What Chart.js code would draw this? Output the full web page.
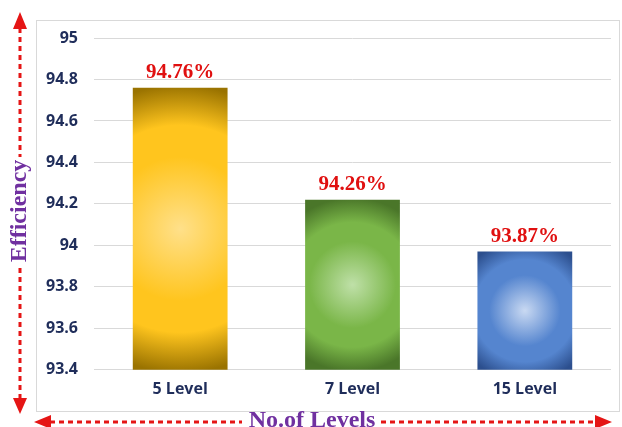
<!DOCTYPE html>
<html>
<head>
<meta charset="utf-8">
<script src="https://cdn.jsdelivr.net/npm/chart.js@4"></script>
<style>
  html, body { margin: 0; padding: 0; background: #fff; }
  #wrap { width: 622px; height: 427px; }
</style>
</head>
<body>
<div id="wrap"><canvas id="chart" width="622" height="427"></canvas></div>
<script>
// データ
const levels = ["5 Level", "7 Level", "15 Level"];
const efficiency = [94.76, 94.22, 93.97];
const barLabels = ["94.76%", "94.26%", "93.87%"];
const yTicks = [93.4, 93.6, 93.8, 94, 94.2, 94.4, 94.6, 94.8, 95];

// 棒の色 (中心, 中間, 外側)
const barColors = [
  ["#ffe08a", "#ffc51e", "#9a7300"],
  ["#bfe0a8", "#7ab648", "#4a7629"],
  ["#c9d9f2", "#5585cf", "#2c4f8e"]
];

// 放射グラデーション (スケールから棒の位置を求める)
function barGradient(context) {
  const chart = context.chart;
  const i = context.dataIndex;
  const c = barColors[i];
  const xs = chart.scales.x, ys = chart.scales.y;
  if (!xs || !ys || !chart.chartArea || i === undefined) return c[1];
  const cx = xs.getPixelForValue(i);
  const top = ys.getPixelForValue(efficiency[i]);
  const bot = ys.getPixelForValue(ys.min);
  if (!isFinite(cx) || !isFinite(top) || !isFinite(bot)) return c[1];
  const w = (chart.chartArea.width / levels.length) * 0.55;
  const cy = (top + bot) / 2;
  const r = Math.max(w * 0.75, (bot - top) / 2 * 1.02);
  const g = chart.ctx.createRadialGradient(cx, cy, 0, cx, cy, r);
  g.addColorStop(0, c[0]);
  g.addColorStop(0.5, c[1]);
  g.addColorStop(0.72, c[1]);
  g.addColorStop(1, c[2]);
  return g;
}

// 枠・矢印・軸タイトル・値ラベル
const decor = {
  id: "decor",
  beforeDraw(chart) {
    const ctx = chart.ctx;
    ctx.save();
    ctx.strokeStyle = "#d9d9d9";
    ctx.lineWidth = 1;
    ctx.strokeRect(36.5, 20.5, 583, 391);
    ctx.restore();
  },
  afterDatasetsDraw(chart) {
    const ctx = chart.ctx;
    const meta = chart.getDatasetMeta(0);
    ctx.save();
    ctx.font = "bold 21px 'Liberation Serif', 'Times New Roman', serif";
    ctx.fillStyle = "#e01010";
    ctx.textAlign = "center";
    ctx.textBaseline = "middle";
    meta.data.forEach((bar, i) => {
      ctx.fillText(barLabels[i], bar.x, bar.y - 15);
    });
    ctx.restore();
  },
  afterDraw(chart) {
    const ctx = chart.ctx;
    const red = "#e51515";
    ctx.save();
    // 縦矢印
    ctx.strokeStyle = red;
    ctx.lineWidth = 3;
    ctx.setLineDash([5, 4]);
    ctx.beginPath();
    ctx.moveTo(20, 28); ctx.lineTo(20, 157);
    ctx.moveTo(20, 268); ctx.lineTo(20, 400);
    ctx.stroke();
    // 横矢印
    ctx.beginPath();
    ctx.moveTo(50, 422); ctx.lineTo(242, 422);
    ctx.moveTo(381, 422); ctx.lineTo(597, 422);
    ctx.stroke();
    ctx.setLineDash([]);
    ctx.fillStyle = red;
    ctx.beginPath();
    ctx.moveTo(20, 12); ctx.lineTo(13, 29); ctx.lineTo(27, 29); ctx.closePath();
    ctx.moveTo(20, 414); ctx.lineTo(13, 398); ctx.lineTo(27, 398); ctx.closePath();
    ctx.moveTo(34, 422); ctx.lineTo(51, 415); ctx.lineTo(51, 429); ctx.closePath();
    ctx.moveTo(612, 422); ctx.lineTo(595, 415); ctx.lineTo(595, 429); ctx.closePath();
    ctx.fill();
    // 軸タイトル
    ctx.fillStyle = "#7030a0";
    ctx.font = "bold 24px 'Liberation Serif', 'Times New Roman', serif";
    ctx.textAlign = "center";
    ctx.textBaseline = "middle";
    ctx.fillText("No.of Levels", 312, 421);
    ctx.translate(20, 211);
    ctx.rotate(-Math.PI / 2);
    ctx.fillText("Efficiency", 0, 0);
    ctx.restore();
  }
};

new Chart(document.getElementById("chart"), {
  type: "bar",
  data: {
    labels: levels,
    datasets: [{
      data: efficiency,
      backgroundColor: barGradient,
      borderWidth: 0,
      categoryPercentage: 1,
      barPercentage: 0.55
    }]
  },
  options: {
    responsive: false,
    animation: false,
    layout: { padding: { top: 38, left: 30, right: 11, bottom: 26 } },
    plugins: { legend: { display: false }, tooltip: { enabled: false } },
    scales: {
      x: {
        grid: { display: false },
        border: { display: false },
        ticks: {
          color: "#1f2d5a",
          padding: 2,
          font: { family: "'Open Sans', 'Liberation Sans', sans-serif", size: 16, weight: "bold" }
        }
      },
      y: {
        min: 93.4,
        max: 95,
        afterBuildTicks(axis) { axis.ticks = yTicks.map(v => ({ value: v })); },
        grid: { color: "#d9d9d9", drawTicks: false },
        border: { display: false },
        ticks: {
          color: "#1f2d5a",
          padding: 16,
          font: { family: "'Open Sans', 'Liberation Sans', sans-serif", size: 16, weight: "bold" },
          callback: v => String(Math.round(v * 10) / 10)
        }
      }
    }
  },
  plugins: [decor]
});
</script>
</body>
</html>
